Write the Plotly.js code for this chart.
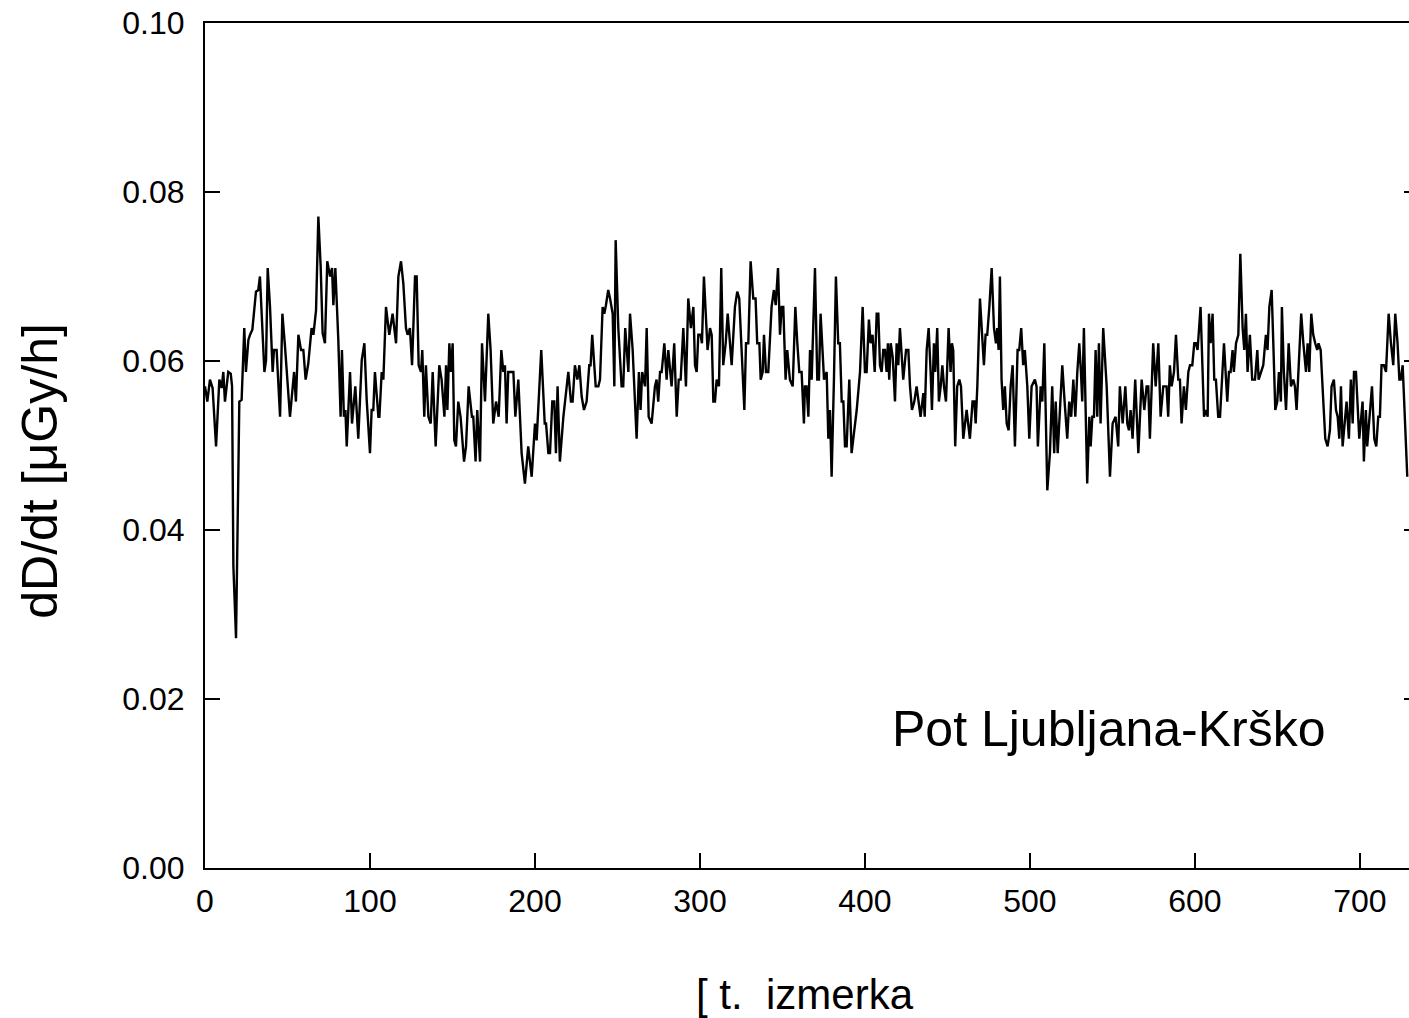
<!DOCTYPE html>
<html>
<head>
<meta charset="utf-8">
<script src="https://cdn.plot.ly/plotly-3.0.1.min.js"></script>
<style>html,body{margin:0;padding:0;overflow:hidden;background:#fff;}</style>
</head>
<body>
<div id="chart"></div>
<script>
const measurementIndex = [
0.0,1.4,3.0,4.6,6.7,8.7,10.1,11.1,12.1,14.1,15.6,16.4,17.2,18.8,19.8,20.8,22.2,23.8,24.8,26.3,27.3,28.7,30.9,32.3,33.3,35.0,36.0,37.0,38.0,39.4,41.0,41.8,43.4,45.5,46.9,48.5,49.9,51.5,54.0,55.1,56.6,58.2,59.6,61.0,62.6,64.6,65.7,67.3,68.7,70.1,71.3,72.7,
74.1,75.8,77.0,77.8,79.0,80.8,82.2,83.0,84.2,85.1,85.9,87.9,89.1,91.1,92.9,95.0,96.6,98.0,100.0,101.0,102.0,103.0,105.1,105.7,107.1,108.1,109.7,111.7,113.7,115.8,117.2,118.8,120.2,121.8,122.8,124.2,125.5,127.3,128.3,129.5,130.9,131.7,132.9,133.9,135.4,136.8,138.0,139.8,142.0,143.4,145.1,
146.1,146.9,148.1,149.1,150.1,151.1,152.1,153.5,154.9,157.0,158.2,159.8,161.8,162.6,164.0,165.0,166.7,167.9,169.7,171.7,173.1,174.7,176.4,178.0,179.6,180.8,181.8,182.8,183.8,185.2,186.9,188.1,189.9,191.9,193.9,195.9,198.0,200.0,201.0,203.8,205.9,206.7,208.1,209.1,210.5,211.7,212.7,213.7,215.1,217.2,
218.2,220.2,221.8,222.8,224.2,225.7,226.9,228.3,229.7,231.3,232.9,233.7,234.7,236.8,238.4,239.4,241.0,242.0,243.0,244.4,245.5,247.1,248.1,248.9,250.5,252.5,253.5,254.7,256.6,257.6,259.2,261.6,263.0,264.0,265.0,266.7,267.7,268.9,270.7,272.7,273.7,274.7,275.8,276.8,278.4,279.8,280.8,282.8,284.4,285.9,287.1,288.3,289.9,
291.5,292.9,294.5,296.0,297.0,298.0,299.0,300.4,301.2,302.4,303.6,304.6,306.1,307.1,308.1,309.1,310.1,311.5,312.9,314.1,315.6,316.8,317.8,319.2,321.2,322.6,323.8,325.3,326.9,327.9,329.3,330.7,332.3,333.7,334.7,336.0,336.8,338.0,338.8,340.0,341.4,343.4,344.8,345.9,347.3,348.5,349.5,350.5,351.9,352.9,354.5,356.2,357.8,359.0,360.2,361.6,363.0,
363.6,364.6,365.7,366.7,367.7,369.7,371.1,372.1,373.1,374.3,375.2,376.8,377.8,378.8,379.8,381.2,382.4,383.8,384.8,385.9,386.9,387.9,388.9,390.5,391.9,393.3,395.0,397.0,398.6,400.0,401.0,402.4,403.4,404.6,405.9,407.1,408.1,409.1,410.1,411.1,412.1,413.1,413.9,414.7,415.6,416.8,418.2,419.2,420.2,421.2,422.2,423.2,424.9,426.3,427.3,428.5,429.9,431.3,432.5,433.7,435.4,
436.2,437.4,438.6,439.8,440.6,441.8,442.6,443.8,444.8,445.9,446.9,447.9,449.1,450.7,451.9,452.7,453.5,454.7,455.9,457.2,458.2,459.6,461.6,463.6,465.2,466.3,467.1,468.1,469.7,471.3,472.1,473.1,474.1,475.4,476.8,478.2,479.4,480.2,481.0,481.8,482.8,483.8,484.8,485.9,487.1,488.3,489.5,490.9,492.5,493.5,494.7,495.9,496.9,498.4,499.6,501.0,503.0,504.0,504.8,506.5,507.5,508.7,
510.5,512.1,513.5,514.7,515.6,516.8,518.2,519.6,521.0,522.6,523.8,525.0,526.3,527.5,528.7,529.9,530.9,531.7,532.7,534.7,536.0,536.8,537.8,538.8,539.8,540.8,541.8,542.8,544.4,546.5,548.5,550.1,551.9,553.5,554.5,556.2,557.8,559.0,560.0,561.0,562.2,563.8,565.7,567.7,569.3,570.7,571.7,572.7,574.7,576.2,577.8,579.2,580.8,
582.8,583.8,584.8,585.9,587.3,588.5,589.9,590.9,591.9,593.3,594.5,596.0,597.0,598.4,599.6,600.6,601.6,603.4,605.5,606.7,607.7,608.5,609.5,610.7,611.7,612.7,614.1,615.2,617.6,619.6,620.6,621.6,622.8,623.6,624.9,626.3,627.5,628.9,629.9,630.9,631.9,633.3,634.7,636.4,637.8,638.6,640.0,641.4,643.0,644.0,645.1,646.5,647.5,648.7,649.9,650.9,652.1,652.7,653.9,
655.2,656.8,658.2,659.6,660.6,661.6,663.0,664.4,665.7,667.3,668.3,669.3,670.5,671.7,672.9,674.1,674.9,676.2,677.8,679.0,680.4,681.8,682.8,684.2,685.5,686.5,687.5,688.5,689.5,690.9,691.9,693.3,694.5,695.6,696.4,697.6,698.8,699.6,700.8,701.6,702.4,703.6,704.4,705.7,707.3,708.7,709.9,711.1,712.1,713.1,714.5,715.8,717.4,718.8,720.2,721.4,722.8,723.9,724.7,725.9,727.3,728.7
];
// dose rate dD/dt in µGy/h
const doseRate = [
0.0570,0.0552,0.0578,0.0568,0.0499,0.0578,0.0568,0.0587,0.0552,0.0587,0.0585,0.0570,0.0357,0.0272,0.0410,0.0552,0.0554,0.0639,0.0587,0.0625,0.0631,0.0637,0.0682,0.0684,0.0700,0.0625,0.0587,0.0601,0.0710,0.0664,0.0587,0.0613,0.0613,0.0534,0.0656,0.0617,0.0578,0.0534,0.0587,0.0552,0.0631,0.0613,0.0613,0.0578,0.0597,0.0639,0.0631,0.0660,0.0771,0.0712,0.0633,0.0621,
0.0718,0.0700,0.0710,0.0666,0.0710,0.0625,0.0534,0.0613,0.0534,0.0542,0.0499,0.0587,0.0526,0.0570,0.0508,0.0601,0.0621,0.0554,0.0491,0.0542,0.0542,0.0587,0.0534,0.0534,0.0587,0.0578,0.0664,0.0631,0.0656,0.0621,0.0700,0.0718,0.0692,0.0639,0.0631,0.0639,0.0595,0.0700,0.0700,0.0595,0.0587,0.0613,0.0534,0.0595,0.0534,0.0526,0.0587,0.0499,0.0595,0.0578,0.0534,
0.0595,0.0542,0.0621,0.0587,0.0621,0.0506,0.0499,0.0552,0.0534,0.0481,0.0499,0.0570,0.0534,0.0534,0.0481,0.0542,0.0481,0.0621,0.0552,0.0656,0.0613,0.0526,0.0552,0.0534,0.0613,0.0587,0.0595,0.0526,0.0587,0.0587,0.0587,0.0534,0.0578,0.0491,0.0455,0.0499,0.0463,0.0526,0.0506,0.0613,0.0526,0.0526,0.0491,0.0491,0.0552,0.0552,0.0491,0.0570,0.0481,0.0534,
0.0552,0.0587,0.0552,0.0552,0.0595,0.0578,0.0595,0.0558,0.0542,0.0552,0.0595,0.0595,0.0631,0.0570,0.0570,0.0578,0.0664,0.0656,0.0666,0.0684,0.0674,0.0656,0.0570,0.0743,0.0639,0.0570,0.0570,0.0639,0.0587,0.0656,0.0613,0.0508,0.0587,0.0542,0.0587,0.0570,0.0639,0.0534,0.0526,0.0570,0.0578,0.0552,0.0587,0.0587,0.0621,0.0578,0.0613,0.0570,0.0621,0.0534,0.0578,0.0578,0.0639,
0.0570,0.0674,0.0639,0.0664,0.0595,0.0587,0.0631,0.0631,0.0621,0.0700,0.0656,0.0613,0.0639,0.0631,0.0552,0.0552,0.0578,0.0570,0.0710,0.0595,0.0621,0.0656,0.0631,0.0595,0.0664,0.0682,0.0674,0.0605,0.0542,0.0621,0.0621,0.0718,0.0674,0.0674,0.0621,0.0621,0.0578,0.0587,0.0631,0.0587,0.0587,0.0664,0.0684,0.0666,0.0710,0.0631,0.0664,0.0664,0.0578,0.0613,0.0578,0.0570,0.0664,0.0621,0.0587,0.0587,0.0526,
0.0570,0.0570,0.0534,0.0613,0.0578,0.0710,0.0578,0.0578,0.0656,0.0613,0.0578,0.0587,0.0508,0.0542,0.0463,0.0578,0.0700,0.0621,0.0621,0.0552,0.0552,0.0499,0.0499,0.0578,0.0491,0.0514,0.0542,0.0587,0.0664,0.0587,0.0587,0.0649,0.0621,0.0631,0.0587,0.0656,0.0656,0.0595,0.0587,0.0613,0.0613,0.0587,0.0621,0.0578,0.0621,0.0605,0.0552,0.0621,0.0595,0.0639,0.0613,0.0578,0.0613,0.0613,0.0570,0.0542,0.0552,0.0570,0.0552,0.0534,0.0562,
0.0534,0.0613,0.0639,0.0587,0.0542,0.0621,0.0587,0.0639,0.0552,0.0570,0.0595,0.0570,0.0552,0.0639,0.0587,0.0621,0.0613,0.0499,0.0570,0.0578,0.0570,0.0508,0.0542,0.0508,0.0552,0.0552,0.0526,0.0570,0.0674,0.0621,0.0595,0.0631,0.0631,0.0664,0.0710,0.0639,0.0621,0.0639,0.0613,0.0700,0.0578,0.0542,0.0570,0.0526,0.0518,0.0570,0.0595,0.0499,0.0613,0.0613,0.0639,0.0595,0.0613,0.0570,0.0508,0.0570,0.0578,0.0570,0.0499,0.0570,0.0552,0.0621,
0.0447,0.0491,0.0570,0.0491,0.0552,0.0491,0.0552,0.0595,0.0552,0.0508,0.0552,0.0534,0.0578,0.0534,0.0587,0.0621,0.0587,0.0552,0.0639,0.0455,0.0534,0.0499,0.0534,0.0534,0.0613,0.0534,0.0621,0.0526,0.0639,0.0570,0.0463,0.0526,0.0534,0.0499,0.0570,0.0526,0.0570,0.0526,0.0518,0.0542,0.0508,0.0578,0.0491,0.0578,0.0542,0.0570,0.0570,0.0508,0.0621,0.0570,0.0621,0.0534,0.0570,
0.0570,0.0534,0.0595,0.0570,0.0587,0.0631,0.0578,0.0578,0.0526,0.0570,0.0542,0.0587,0.0595,0.0595,0.0621,0.0621,0.0613,0.0664,0.0534,0.0542,0.0534,0.0656,0.0621,0.0656,0.0578,0.0578,0.0534,0.0534,0.0621,0.0552,0.0587,0.0587,0.0613,0.0587,0.0621,0.0631,0.0727,0.0639,0.0613,0.0656,0.0587,0.0631,0.0578,0.0578,0.0613,0.0578,0.0587,0.0595,0.0631,0.0613,0.0664,0.0684,0.0621,0.0542,0.0552,0.0587,0.0552,0.0664,0.0587,
0.0542,0.0621,0.0570,0.0578,0.0570,0.0542,0.0595,0.0656,0.0621,0.0587,0.0621,0.0587,0.0656,0.0631,0.0621,0.0613,0.0621,0.0613,0.0552,0.0508,0.0499,0.0518,0.0570,0.0578,0.0542,0.0534,0.0508,0.0570,0.0499,0.0534,0.0552,0.0508,0.0578,0.0526,0.0587,0.0587,0.0534,0.0508,0.0534,0.0552,0.0481,0.0542,0.0499,0.0534,0.0570,0.0508,0.0499,0.0534,0.0534,0.0595,0.0595,0.0587,0.0656,0.0621,0.0595,0.0656,0.0621,0.0578,0.0578,0.0595,0.0534,0.0463
];
const xTickValues = [0, 100, 200, 300, 400, 500, 600, 700];
const yTickValues = [0.00, 0.02, 0.04, 0.06, 0.08, 0.10];
const yTickLabels = ["0.00", "0.02", "0.04", "0.06", "0.08", "0.10"];
const routeLabel = "Pot Ljubljana-Krško";
const xTitle = "[ t.  izmerka";
const yTitle = "dD/dt [μGy/h]";

const FONT = "Arial, 'Liberation Sans', sans-serif";

const trace = {
  x: measurementIndex,
  y: doseRate,
  type: "scatter",
  mode: "lines",
  line: {color: "#000000", width: 2.4},
  hoverinfo: "skip"
};

const layout = {
  width: 1424,
  height: 1018,
  margin: {l: 205, r: 5, t: 23, b: 150},
  paper_bgcolor: "#ffffff",
  plot_bgcolor: "#ffffff",
  showlegend: false,
  font: {family: FONT, color: "#000000"},
  xaxis: {
    range: [0, 735.8],
    tickvals: xTickValues,
    ticks: "inside",
    ticklen: 15,
    tickwidth: 2,
    tickcolor: "#000",
    showline: true,
    linewidth: 2,
    linecolor: "#000",
    mirror: true,
    showgrid: false,
    zeroline: false,
    tickfont: {family: FONT, size: 32, color: "#000"},
    ticklabelstandoff: 4
  },
  yaxis: {
    range: [0, 0.1],
    tickvals: yTickValues,
    ticktext: yTickLabels,
    ticks: "inside",
    ticklen: 15,
    tickwidth: 2,
    tickcolor: "#000",
    showline: true,
    linewidth: 2,
    linecolor: "#000",
    mirror: "ticks",
    showgrid: false,
    zeroline: false,
    tickfont: {family: FONT, size: 32, color: "#000"},
    ticklabelstandoff: 12
  },
  annotations: [
    {
      x: 548, y: 0.0165, xref: "x", yref: "y",
      text: routeLabel, showarrow: false,
      font: {family: FONT, size: 50, color: "#000"},
      xanchor: "center", yanchor: "middle"
    },
    {
      x: 0.494, y: -0.150, xref: "paper", yref: "paper",
      text: xTitle, showarrow: false,
      font: {family: FONT, size: 42, color: "#000"},
      xanchor: "center", yanchor: "middle"
    },
    {
      x: -0.136, y: 0.47, xref: "paper", yref: "paper",
      text: yTitle, showarrow: false, textangle: -90,
      font: {family: FONT, size: 50, color: "#000"},
      xanchor: "center", yanchor: "middle"
    }
  ]
};

Plotly.newPlot("chart", [trace], layout, {displayModeBar: false, staticPlot: true});
</script>
</body>
</html>
